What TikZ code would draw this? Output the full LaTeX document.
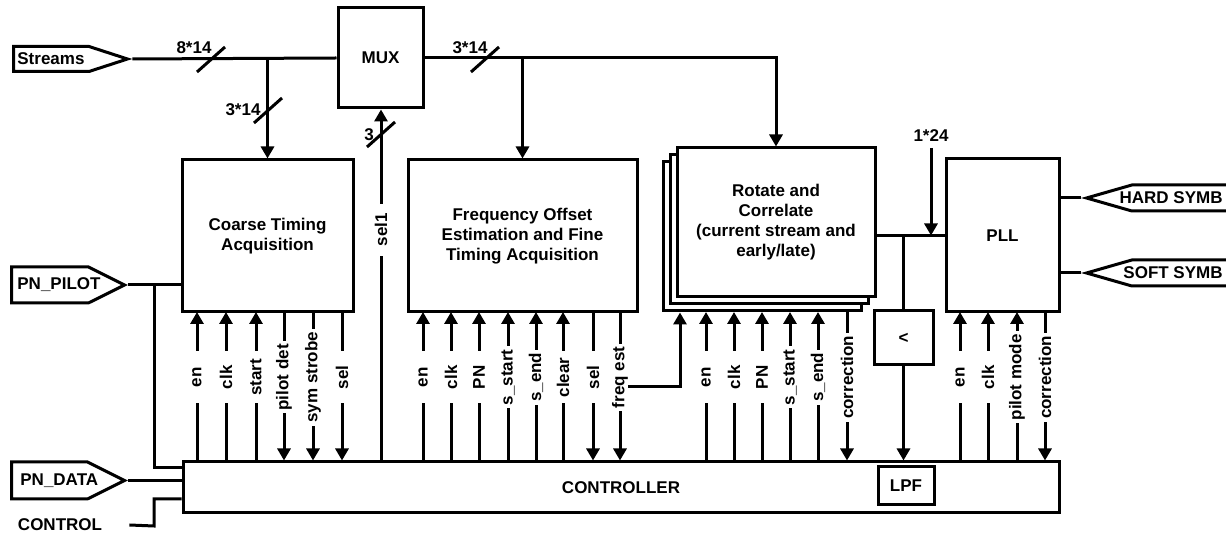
\documentclass[tikz,border=0pt]{standalone}
\usepackage{fontspec}
\setmainfont{Liberation Sans}
\usetikzlibrary{arrows.meta,positioning,shapes.symbols}
\tikzset{
  blockbox/.style={draw, line width=1.5pt, fill=white, align=center, inner sep=0pt},
  tagbox/.style={draw, line width=1.5pt, shape=signal, fill=white, inner sep=0pt},
  taglbl/.style={inner sep=0pt},
  wire/.style={line width=1.5pt},
  arr/.style={wire, -{Triangle[length=6pt,width=6.5pt]}},
  buslbl/.style={inner sep=0pt},
  pinlbl/.style={rotate=90, fill=white, inner xsep=1.5pt, inner ysep=0pt, minimum width=26pt}
}
\newcommand{\busmark}[1]{\draw[wire] (#1) +(-14,13) -- +(14,-12);}

\begin{document}
\begin{tikzpicture}[x=0.5pt,y=-0.5pt,font=\fontsize{8.5}{10}\selectfont\bfseries]
  \useasboundingbox (0,0) rectangle (1226,533);

  % blocks
  \node[blockbox, minimum width=42.5pt, minimum height=50pt] (mux) at (380.5,58) {MUX};
  \node[blockbox, minimum width=85.5pt, minimum height=76pt] (coarse) at (267.5,236) {Coarse Timing\\Acquisition};
  \node[blockbox, minimum width=114.5pt, minimum height=76pt] (freq) at (522.5,236) {Frequency Offset\\Estimation and Fine\\Timing Acquisition};
  \node[blockbox, minimum width=99pt, minimum height=74.5pt] (rot3) at (762,236.5) {};
  \node[blockbox, minimum width=99pt, minimum height=74.5pt] (rot2) at (769,229.5) {};
  \node[blockbox, minimum width=99pt, minimum height=74.5pt] (rot) at (776,222.5) {Rotate and\\Correlate\\(current stream and\\early/late)};
  \node[blockbox, minimum width=56.5pt, minimum height=76.5pt] (pll) at (1002.5,235.5) {PLL};
  \node[blockbox, minimum width=29.5pt, minimum height=27pt] (lt) at (903.5,338) {<};
  \node[blockbox, minimum width=438pt, minimum height=25.5pt] (ctrl) at (621,487.5) {CONTROLLER};
  \node[blockbox, minimum width=28pt, minimum height=19pt] (lpf) at (906,486) {LPF};

  % ports
  \node[tagbox, signal to=east, signal pointer angle=36, minimum height=12.5pt, minimum width=57pt, anchor=west,
    label={[taglbl, anchor=west, xshift=2.5pt]west:Streams}] (streams) at (12,59) {};
  \node[tagbox, signal to=east, signal pointer angle=53, minimum height=18pt, minimum width=56.5pt, anchor=west,
    label={[taglbl, anchor=west, xshift=3.5pt]west:PN\_PILOT}] (pilot) at (10,285) {};
  \node[tagbox, signal to=east, signal pointer angle=53, minimum height=18.5pt, minimum width=56.5pt, anchor=west,
    label={[taglbl, anchor=west, xshift=5pt]west:PN\_DATA}] (pndata) at (10,480.5) {};
  \node[tagbox, signal to=west, signal pointer angle=32, minimum height=13pt, minimum width=72pt, anchor=east,
    label={[taglbl, anchor=east, xshift=-4.5pt]east:HARD SYMB}] (hard) at (1232,198) {};
  \node[tagbox, signal to=west, signal pointer angle=32, minimum height=13pt, minimum width=72pt, anchor=east,
    label={[taglbl, anchor=east, xshift=-4.5pt]east:SOFT SYMB}] (soft) at (1232,273) {};
  \node[inner sep=0pt] (control) at (60,525) {CONTROL};

  % data paths
  \draw[wire] (streams.east) -- (mux.west);
  \draw[arr] (streams.east -| coarse.north) -- (coarse.north);
  \busmark{211,59}
  \node[buslbl] at (194,48) {8*14};
  \busmark{268,110}
  \node[buslbl] at (243,110) {3*14};
  \draw[arr] (mux.east) -| (rot.north);
  \draw[arr] (mux.east -| freq.north) -- (freq.north);
  \busmark{485,59}
  \node[buslbl] at (470,48) {3*14};
  \draw[wire] (rot.east |- pll.west) -- (pll.west);
  \draw[wire] (lt.north |- pll.west) -- (lt.north);
  \draw[arr] (lt.south) -- (lt.south |- ctrl.north);
  \coordinate (fixin) at (931,148);
  \draw[arr] (fixin) -- (fixin |- pll.west);
  \node[buslbl] at (931,136) {1*24};
  \draw[wire] (pll.east |- hard.west) -- (hard.west);
  \draw[wire] (pll.east |- soft.west) -- (soft.west);

  % inputs to controller
  \draw[wire] (pilot.east) -- (pilot.east -| coarse.west);
  \draw[wire] (154,0 |- pilot.east) -- (154,468) -- (154,468 -| ctrl.west);
  \draw[wire] (pndata.east) -- (pndata.east -| ctrl.west);
  \draw[wire] ([xshift=13.5pt]control.east) -- (154,526) -- (154,499) -- (154,499 -| ctrl.west);

  % sel1
  \draw[arr] (381,0 |- ctrl.north) -- (381,0 |- mux.south) node[pos=0.658, pinlbl] {sel1};
  \busmark{381,134}
  \node[buslbl] at (369,135) {3};

  % freq est to rotate
  \coordinate (festap) at (620,387);
  \draw[arr] (festap) -| (680,0 |- rot3.south);

  % control pins
  \foreach \x/\t in {197/en,226/clk,256/start,423/en,451/clk,479/PN,508/s\_start,536/s\_end,563/clear,706/en,734/clk,762/PN,790/s\_start,818/s\_end,960/en,988/clk,1017/pilot mode}
    \draw[arr] (\x,0 |- ctrl.north) -- (\x,312) node[pos=0.56, pinlbl] {\t};
  \foreach \x/\t in {284/pilot det,313/sym strobe,342/sel,593/sel,620/freq est,847/correction,1045/correction}
    \draw[arr] (\x,312) -- (\x,0 |- ctrl.north) node[pos=0.44, pinlbl] {\t};
\end{tikzpicture}
\end{document}
